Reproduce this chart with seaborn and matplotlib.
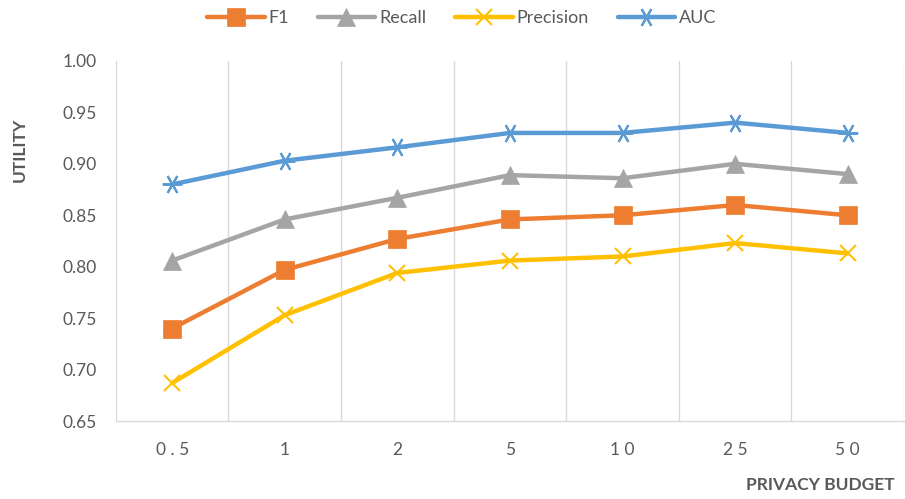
import matplotlib
matplotlib.use("Agg")
import matplotlib.pyplot as plt
import seaborn as sns
import pandas as pd

# Privacy budget levels and utility scores per metric
budgets = ["0.5", "1", "2", "5", "10", "25", "50"]
f1 = [0.740, 0.797, 0.827, 0.846, 0.850, 0.860, 0.850]
recall = [0.806, 0.846, 0.867, 0.889, 0.886, 0.900, 0.890]
precision = [0.687, 0.753, 0.794, 0.806, 0.810, 0.823, 0.813]
auc = [0.880, 0.903, 0.916, 0.930, 0.930, 0.940, 0.930]

metrics = ["F1", "Recall", "Precision", "AUC"]
series = [f1, recall, precision, auc]
colors = ["#ED7D31", "#A5A5A5", "#FFC000", "#5B9BD5"]
markers = ["s", "^", "x", (6, 2, 90)]
marker_sizes = [13, 13.5, 12, 14]

rows = []
for name, vals in zip(metrics, series):
    for b, v in zip(budgets, vals):
        rows.append({"budget": b, "metric": name, "utility": v})
df = pd.DataFrame(rows)

sns.set_theme(style="white")
plt.rcParams["font.family"] = ["Lato", "DejaVu Sans"]

fig = plt.figure(figsize=(9.05, 4.99), dpi=100)
ax = fig.add_axes([0.128, 0.156, 0.871, 0.722])

for name, col, mk, ms in zip(metrics, colors, markers, marker_sizes):
    sub = df[df["metric"] == name]
    sns.pointplot(data=sub, x="budget", y="utility", order=budgets,
                  color=col, marker=mk, markersize=ms, linewidth=3.2,
                  errorbar=None, ax=ax, label=name,
                  markeredgewidth=1.5 if mk in ("x", (6, 2, 90)) else 0.5)

if ax.get_legend() is not None:
    ax.get_legend().remove()

ax.set_ylim(0.65, 1.00)
ax.set_xlim(-0.5, len(budgets) - 0.5)
ax.set_yticks([0.65, 0.70, 0.75, 0.80, 0.85, 0.90, 0.95, 1.00])
ax.set_yticklabels([f"{t:.2f}" for t in ax.get_yticks()])
ax.set_xticks(range(len(budgets)))
ax.set_xticklabels([" ".join(b) for b in budgets])
ax.set_xticks([i - 0.5 for i in range(len(budgets) + 1)], minor=True)
ax.grid(False)
ax.grid(True, which="minor", axis="x", color="#D9D9D9", linewidth=1.0)
ax.tick_params(axis="both", which="both", length=0, labelsize=12.5,
               labelcolor="#595959")
ax.tick_params(axis="y", pad=14)
ax.tick_params(axis="x", pad=15)
for side in ["top", "right", "left"]:
    ax.spines[side].set_visible(False)
ax.spines["bottom"].set_color("#D9D9D9")
ax.spines["bottom"].set_linewidth(1.0)
ax.set_xlabel("")
ax.set_ylabel("")

fig.text(0.022, 0.70, "UTILITY", rotation=90, ha="center", va="center",
         fontsize=12.5, fontweight="bold", color="#595959")
fig.text(0.989, 0.028, "PRIVACY BUDGET", ha="right", va="center",
         fontsize=12.5, fontweight="bold", color="#595959")

h, l = ax.get_legend_handles_labels()
leg = fig.legend(h, l, loc="center", bbox_to_anchor=(0.51, 0.964), ncol=4,
                 frameon=False, fontsize=13, handlelength=3.2,
                 columnspacing=1.6, handletextpad=0.2)
for t in leg.get_texts():
    t.set_color("#595959")

fig.savefig("out.png", dpi=100)
